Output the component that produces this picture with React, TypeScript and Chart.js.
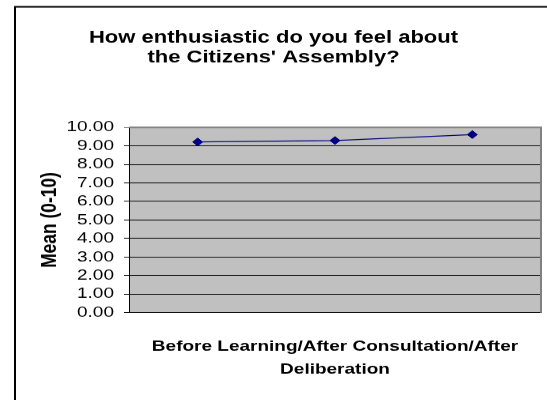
import React, { useEffect, useRef } from "react";
import { Chart, registerables } from "chart.js";

Chart.register(...registerables);

const titleLines = ["How enthusiastic do you feel about", "the Citizens' Assembly?"];
const xTitleLines = ["Before Learning/After Consultation/After", "Deliberation"];
const yTitle = "Mean (0-10)";
const categories = ["Before Learning", "After Consultation", "After Deliberation"];
const meanValues = [9.21, 9.29, 9.61];
const yMin = 0;
const yMax = 10;
const yStep = 1;

const SQUASH = 0.79;
const W = 547;
const H = 506;
const FONT = "'Liberation Sans', Arial, sans-serif";

export default function App() {
  const ref = useRef<HTMLCanvasElement | null>(null);

  useEffect(() => {
    const canvas = ref.current;
    if (!canvas) return;
    const framePlugin = {
      id: "framePlugin",
      beforeDraw(chart: any) {
        const { ctx, chartArea: a } = chart;
        ctx.save();
        ctx.fillStyle = "#C0C0C0";
        ctx.fillRect(a.left, a.top, a.right - a.left, a.bottom - a.top);
        ctx.restore();
      },
      beforeDatasetsDraw(chart: any) {
        const { ctx, chartArea: a } = chart;
        ctx.save();
        ctx.strokeStyle = "#808080";
        ctx.lineWidth = 2;
        ctx.beginPath();
        ctx.moveTo(a.left, a.top);
        ctx.lineTo(a.right, a.top);
        ctx.lineTo(a.right, a.bottom);
        ctx.stroke();
        ctx.restore();
      },
      afterDraw(chart: any) {
        const { ctx } = chart;
        ctx.save();
        ctx.strokeStyle = "#000000";
        ctx.lineWidth = 2;
        ctx.strokeRect(15, 8.6, 700, 700);
        ctx.restore();
      },
    };

    const chart = new Chart(canvas, {
      type: "line",
      data: {
        labels: categories,
        datasets: [
          {
            data: meanValues,
            borderColor: "#000080",
            backgroundColor: "#000080",
            borderWidth: 1.3,
            pointStyle: "rectRot",
            pointRadius: 5,
            pointBackgroundColor: "#000080",
            pointBorderColor: "#000080",
            pointBorderWidth: 1,
            tension: 0,
            fill: false,
          },
        ],
      },
      options: {
        animation: false,
        responsive: false,
        devicePixelRatio: 1,
        layout: { padding: { left: 6, right: 6, top: 0, bottom: 0 } },
        plugins: {
          legend: { display: false },
          tooltip: { enabled: false },
          title: {
            display: true,
            text: titleLines,
            color: "#000000",
            font: { family: FONT, size: 22, weight: "bold", lineHeight: 1.12 },
            padding: { top: 35.5, bottom: 76.4 },
          },
        },
        scales: {
          x: {
            type: "category",
            offset: true,
            grid: { display: false, drawTicks: false },
            border: { display: true, color: "#000000", width: 1 },
            ticks: { display: false },
            title: {
              display: true,
              text: xTitleLines,
              color: "#000000",
              font: { family: FONT, size: 19, weight: "bold", lineHeight: 1.55 },
              padding: { top: 28, bottom: 23.4 },
            },
          },
          y: {
            min: yMin,
            max: yMax,
            afterFit(scale: any) {
              scale.width = 123;
            },
            ticks: {
              stepSize: yStep,
              autoSkip: false,
              color: "#000000",
              padding: 10,
              font: { family: FONT, size: 19, lineHeight: 1 },
              callback: (v: any) => Number(v).toFixed(2),
            },
            grid: {
              color: (c: any) => (c.tick && c.tick.value === yMax ? "#808080" : "#000000"),
              lineWidth: 1,
              tickLength: 5,
              drawTicks: true,
            },
            border: { display: true, color: "#000000", width: 1 },
            title: {
              display: true,
              text: yTitle,
              color: "#000000",
              font: { family: FONT, size: 22, weight: "bold", lineHeight: 1.2 },
              padding: { top: 30.8, bottom: 0 },
            },
          },
        },
      },
      plugins: [framePlugin],
    });
    return () => chart.destroy();
  }, []);

  return (
    <div
      style={{
        position: "fixed",
        left: 0,
        top: 0,
        width: W,
        height: 400,
        overflow: "hidden",
        background: "#ffffff",
      }}
    >
      <canvas
        ref={ref}
        width={W}
        height={H}
        style={{
          display: "block",
          width: W,
          height: H,
          transform: `scaleY(${SQUASH})`,
          transformOrigin: "0 0",
        }}
      />
    </div>
  );
}
